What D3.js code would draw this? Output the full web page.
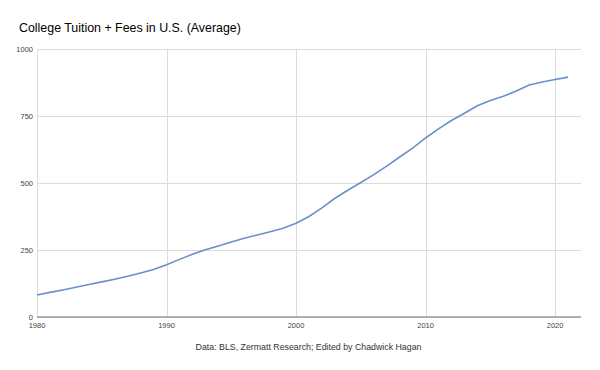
<!DOCTYPE html>
<html>
<head>
<meta charset="utf-8">
<script src="https://cdn.jsdelivr.net/npm/d3@7"></script>
<style>
body { margin: 0; background: #fff; }
text { font-family: "Liberation Sans", Arial, sans-serif; }
</style>
</head>
<body>
<div id="plot"></div>
<script>
// values
var years = [1980, 1981, 1982, 1983, 1984, 1985, 1986, 1987, 1988, 1989,
  1990, 1991, 1992, 1993, 1994, 1995, 1996, 1997, 1998, 1999,
  2000, 2001, 2002, 2003, 2004, 2005, 2006, 2007, 2008, 2009,
  2010, 2011, 2012, 2013, 2014, 2015, 2016, 2017, 2018, 2019,
  2020, 2021];
var tuition = [82, 92, 101, 111, 121, 131, 141, 152, 164, 177,
  195, 215, 234, 251, 265, 280, 294, 306, 318, 331,
  350, 375, 407, 443, 473, 502, 531, 563, 597, 630,
  668, 702, 733, 760, 788, 808, 824, 843, 866, 877,
  886, 895];
var xTicks = [1980, 1990, 2000, 2010, 2020];
var yTicks = [0, 250, 500, 750, 1000];

var margin = {top: 49, right: 19, bottom: 53, left: 37},
width = 600 - margin.left - margin.right,
height = 370 - margin.top - margin.bottom;

var svg = d3.select("#plot")
  .append("svg")
  .attr("width", 600)
  .attr("height", 370);

svg.append("text")
  .attr("x", 19)
  .attr("y", 31.5)
  .style("font-size", "12.4px")
  .style("fill", "#000")
  .text("College Tuition + Fees in U.S. (Average)");

var g = svg.append("g")
  .attr("transform", "translate(" + margin.left + "," + margin.top + ")");

var x = d3.scaleLinear()
  .domain([1980, 2022])
  .range([0, width]);

var y = d3.scaleLinear()
  .domain([0, 1000])
  .range([height, 0]);

// horizontal grid
g.append("g")
  .selectAll("line")
  .data(yTicks)
  .enter()
  .append("line")
  .attr("x1", 0)
  .attr("x2", width)
  .attr("y1", function(d) { return Math.round(y(d)) + 0.5; })
  .attr("y2", function(d) { return Math.round(y(d)) + 0.5; })
  .attr("stroke", "#dcdcdc")
  .attr("stroke-width", 1);

// vertical grid
g.append("g")
  .selectAll("line")
  .data(xTicks)
  .enter()
  .append("line")
  .attr("x1", function(d) { return Math.round(x(d)) + 0.5; })
  .attr("x2", function(d) { return Math.round(x(d)) + 0.5; })
  .attr("y1", 0)
  .attr("y2", height)
  .attr("stroke", "#dcdcdc")
  .attr("stroke-width", 1);

// y labels
g.append("g")
  .selectAll("text")
  .data(yTicks)
  .enter()
  .append("text")
  .attr("x", -4)
  .attr("y", function(d) { return y(d) + 2.5; })
  .attr("text-anchor", "end")
  .style("font-size", "7.5px")
  .style("fill", "#444")
  .text(function(d) { return d; });

// x labels
g.append("g")
  .selectAll("text")
  .data(xTicks)
  .enter()
  .append("text")
  .attr("x", function(d) { return x(d); })
  .attr("y", height + 11)
  .attr("text-anchor", "middle")
  .style("font-size", "7.5px")
  .style("fill", "#444")
  .text(function(d) { return d; });

// baseline
g.append("line")
  .attr("x1", 0)
  .attr("x2", width)
  .attr("y1", height)
  .attr("y2", height)
  .attr("stroke", "#999")
  .attr("stroke-width", 1.5);

var line = d3.line()
  .x(function(d, i) { return x(years[i]); })
  .y(function(d) { return y(d); });

g.append("path")
  .attr("d", line(tuition))
  .attr("fill", "none")
  .attr("stroke", "#6a8fcb")
  .attr("stroke-width", 1.6);

svg.append("text")
  .attr("x", 308.5)
  .attr("y", 350)
  .attr("text-anchor", "middle")
  .style("font-size", "8.8px")
  .style("fill", "#333")
  .text("Data: BLS, Zermatt Research; Edited by Chadwick Hagan");
</script>
</body>
</html>
